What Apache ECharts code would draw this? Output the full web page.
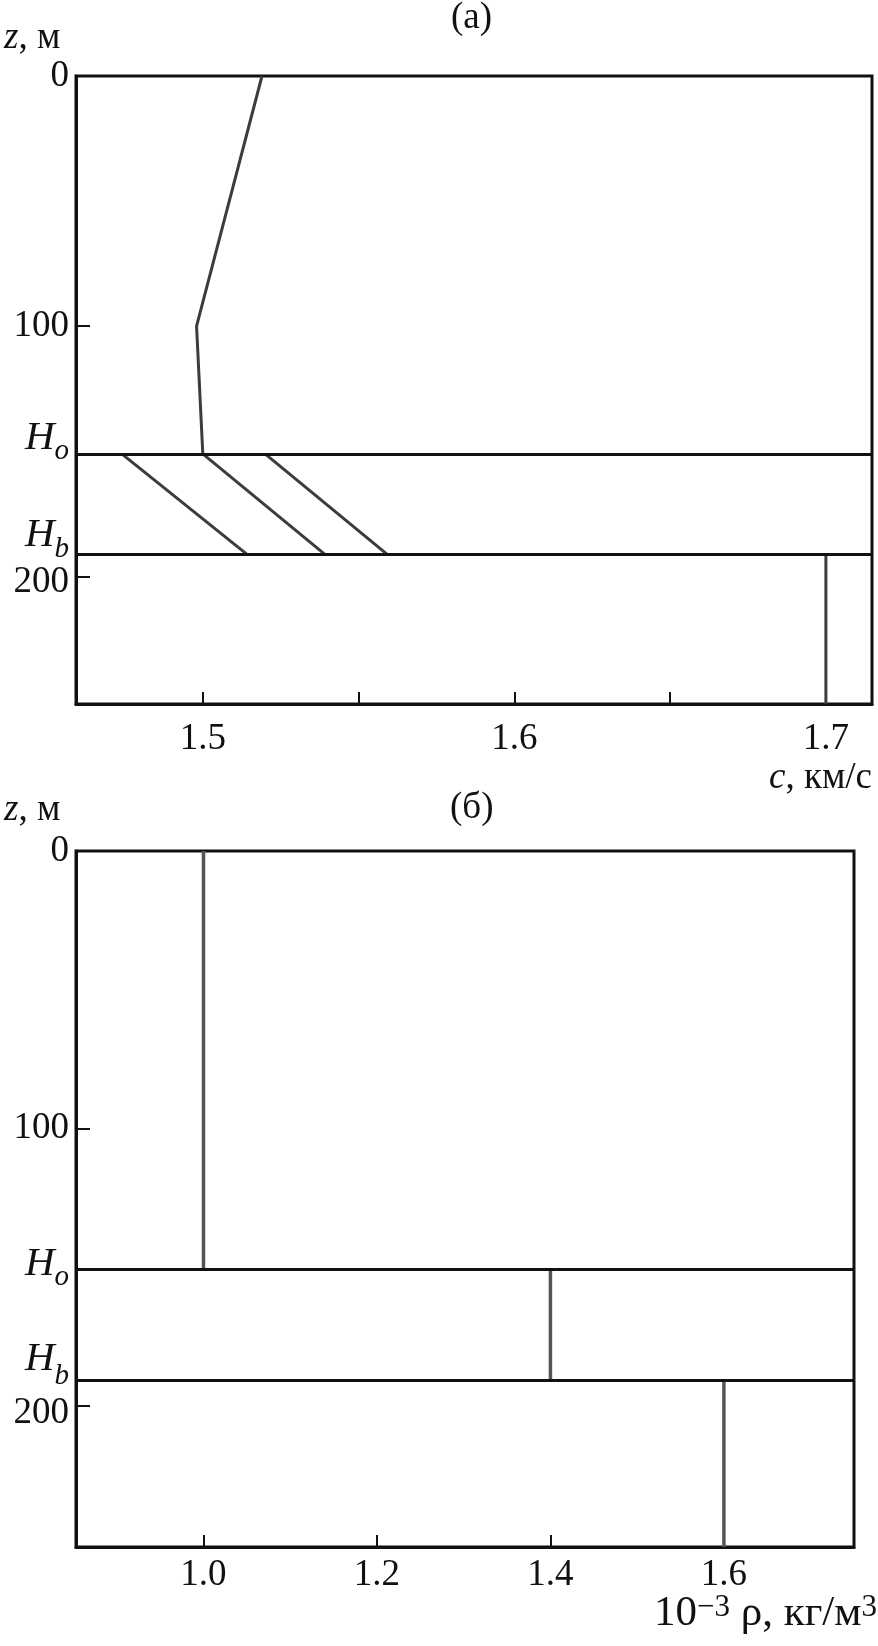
<!DOCTYPE html>
<html>
<head>
<meta charset="utf-8">
<script src="https://cdn.jsdelivr.net/npm/echarts@6/dist/echarts.min.js"></script>
<style>
html,body{margin:0;padding:0;background:#fff;}
#chart{width:878px;height:1646px;}
</style>
</head>
<body>
<div id="chart"></div>
<script>
// ---- data ----
const depthTicks = [0, 100, 200];
const layerDepths = [151, 191];          // H_o, H_b
const layerSubs = ['o', 'b'];
const zMax = 251;
// (a) sound speed, km/s
const waterZ = [0, 100, 151];
const waterC = [1.519, 1.498, 1.5];
const sedTopC = [1.474, 1.5, 1.52];
const sedBotC = [1.514, 1.539, 1.559];
const bottomC = 1.7;
const cTicks = [1.5, 1.55, 1.6, 1.65, 1.7];
const cLabels = [1.5, 1.6, 1.7];
// (б) density, 10^-3 kg/m^3
const rhoValues = [1.0, 1.4, 1.6];
const rhoTicks = [1.0, 1.2, 1.4, 1.6];

const FONT = '"Liberation Serif", "DejaVu Serif", serif';
const LINE = '#3c3c3c';
const FS = 37;
const HFS = 41;

// label placement per chart: H shift (bottom pad) and subscript top pad
const hPlace = [
  [{pb: 32, sp: 20}, {pb: 38, sp: 20}],
  [{pb: 10, sp: 19}, {pb: 42, sp: 23}]
];
const pad200 = [12, 16];

function yAxisFor(gridIndex) {
  const rich = {
    n: {fontFamily: FONT, fontSize: FS, color: '#111', padding: [pad200[gridIndex], 0, 0, 0]}
  };
  layerDepths.forEach((d, i) => {
    const p = hPlace[gridIndex][i];
    rich['h' + i] = {fontFamily: FONT, fontStyle: 'italic', fontSize: HFS, color: '#111',
      verticalAlign: 'top', padding: [0, 0, p.pb, 0]};
    rich['s' + i] = {fontFamily: FONT, fontStyle: 'italic', fontSize: 29, color: '#111',
      verticalAlign: 'top', padding: [p.sp, 0, 0, 0]};
  });
  return {
    type: 'value', gridIndex, inverse: true, min: 0, max: zMax,
    axisLine: {show: true, lineStyle: {color: '#111', width: 3}},
    axisTick: {show: true, inside: true, length: 14, customValues: depthTicks, lineStyle: {color: '#111', width: 2}},
    splitLine: {show: false},
    axisLabel: {
      show: true, margin: 7, color: '#111', fontFamily: FONT, fontSize: FS,
      customValues: depthTicks.concat(layerDepths),
      formatter: function (v) {
        const i = layerDepths.indexOf(v);
        if (i >= 0) return '{h' + i + '|H}{s' + i + '|' + layerSubs[i] + '}';
        if (v === 200) return '{n|' + v + '}';
        return String(v);
      },
      rich
    }
  };
}

function seg(c1, z1, c2, z2) { return [[c1, z1], [c2, z2]]; }

const series = [];
const lineStyle = {color: LINE, width: 3};
// (a)
series.push({type: 'line', xAxisIndex: 0, yAxisIndex: 0, symbol: 'none', lineStyle,
  data: waterC.map((c, i) => [c, waterZ[i]]),
  markLine: {silent: true, symbol: 'none', label: {show: false},
    lineStyle: {color: '#111', width: 3, type: 'solid'},
    data: layerDepths.map(d => ({yAxis: d}))}
});
for (let i = 0; i < sedTopC.length; i++) {
  series.push({type: 'line', xAxisIndex: 0, yAxisIndex: 0, symbol: 'none', lineStyle,
    data: seg(sedTopC[i], layerDepths[0], sedBotC[i], layerDepths[1])});
}
series.push({type: 'line', xAxisIndex: 0, yAxisIndex: 0, symbol: 'none', lineStyle,
  data: seg(bottomC, layerDepths[1], bottomC, zMax)});
// (б)
const rhoBounds = [0].concat(layerDepths, [zMax]);
rhoValues.forEach((r, i) => {
  const s = {type: 'line', xAxisIndex: 1, yAxisIndex: 1, symbol: 'none', lineStyle: {color: '#555', width: 3.5},
    data: seg(r, rhoBounds[i], r, rhoBounds[i + 1])};
  if (i === 0) s.markLine = {silent: true, symbol: 'none', label: {show: false},
    lineStyle: {color: '#111', width: 3, type: 'solid'},
    data: layerDepths.map(d => ({yAxis: d}))};
  series.push(s);
});

const chart = echarts.init(document.getElementById('chart'), null, {renderer: 'canvas'});
chart.setOption({
  animation: false,
  backgroundColor: '#fff',
  grid: [
    {left: 76, top: 76, width: 796, height: 628, show: true, borderColor: '#111', borderWidth: 3, containLabel: false},
    {left: 76, top: 851, width: 778, height: 696, show: true, borderColor: '#111', borderWidth: 3, containLabel: false}
  ],
  xAxis: [
    {type: 'value', gridIndex: 0, min: 1.4593, max: 1.7148,
      axisLine: {show: true, onZero: false, lineStyle: {color: '#111', width: 3}},
      axisTick: {show: true, inside: true, length: 12, customValues: cTicks, lineStyle: {color: '#111', width: 2}},
      splitLine: {show: false},
      axisLabel: {show: true, customValues: cLabels, margin: 17, color: '#111', fontFamily: FONT, fontSize: FS,
        formatter: v => v.toFixed(1)}},
    {type: 'value', gridIndex: 1, min: 0.853, max: 1.75,
      axisLine: {show: true, onZero: false, lineStyle: {color: '#111', width: 3}},
      axisTick: {show: true, inside: true, length: 12, customValues: rhoTicks, lineStyle: {color: '#111', width: 2}},
      splitLine: {show: false},
      axisLabel: {show: true, customValues: rhoTicks, margin: 10, color: '#111', fontFamily: FONT, fontSize: FS,
        formatter: v => v.toFixed(1)}}
  ],
  yAxis: [yAxisFor(0), yAxisFor(1)],
  series,
  graphic: [
    {type: 'text', left: 476 - 25, top: 0, style: {text: '(а)', font: FS + 'px ' + FONT, fill: '#111'}},
    {type: 'text', left: 4, top: 20, style: {text: '{i|z}, м', font: FS + 'px ' + FONT, fill: '#111',
      rich: {i: {fontFamily: FONT, fontStyle: 'italic', fontSize: FS, fill: '#111'}}}},
    {type: 'text', right: 6, top: 760, style: {text: '{i|c}, км/с', font: FS + 'px ' + FONT, fill: '#111',
      rich: {i: {fontFamily: FONT, fontStyle: 'italic', fontSize: FS, fill: '#111'}}}},
    {type: 'text', left: 4, top: 792, style: {text: '{i|z}, м', font: FS + 'px ' + FONT, fill: '#111',
      rich: {i: {fontFamily: FONT, fontStyle: 'italic', fontSize: FS, fill: '#111'}}}},
    {type: 'text', left: 475 - 25, top: 790, style: {text: '(б)', font: FS + 'px ' + FONT, fill: '#111'}},
    {type: 'text', right: 1, top: 1592, style: {text: '10{sup|−3} ρ, кг/м{sup|3}', font: '43px ' + FONT, fill: '#111',
      rich: {sup: {fontFamily: FONT, fontSize: 31, fill: '#111', verticalAlign: 'top', padding: [0, 0, 12, 0]}}}}
  ]
});
</script>
</body>
</html>
